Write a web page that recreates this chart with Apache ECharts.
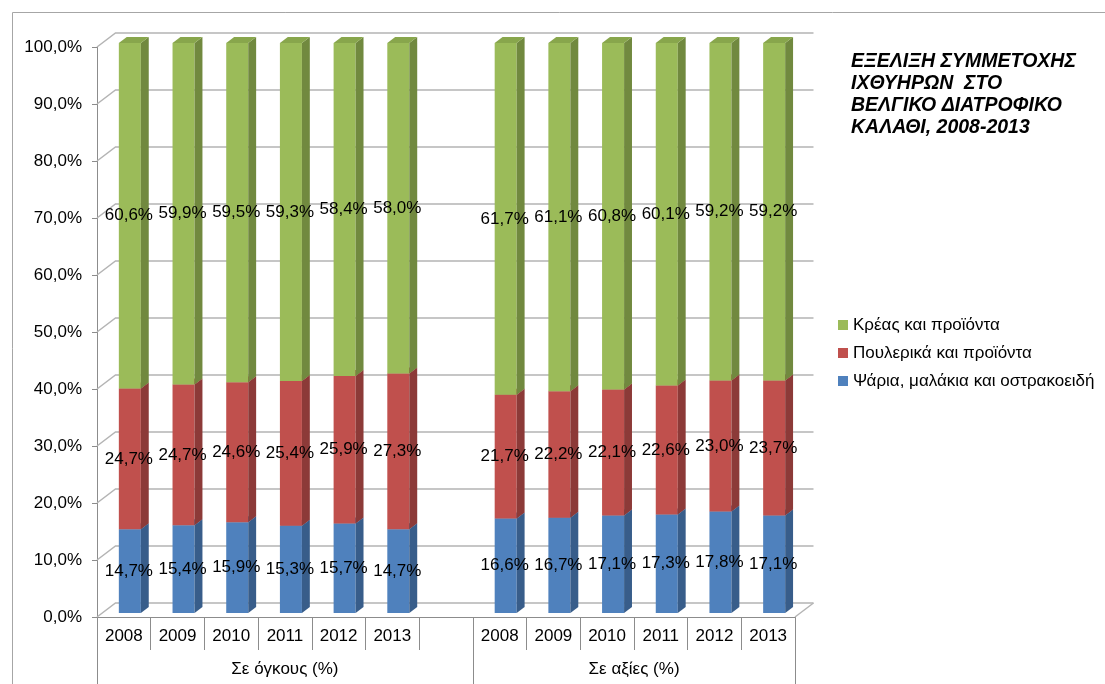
<!DOCTYPE html>
<html>
<head>
<meta charset="utf-8">
<script src="https://cdn.jsdelivr.net/npm/echarts@6/dist/echarts.min.js"></script>
<style>
html,body{margin:0;padding:0;background:#fff;}
#c{width:1105px;height:684px;}
</style>
</head>
<body>
<div id="c"></div>
<script>
// ---- data ----
var years = ['2008','2009','2010','2011','2012','2013','','2008','2009','2010','2011','2012','2013'];
var groupNames = ['Σε όγκους (%)', 'Σε αξίες (%)'];
var seriesNames = ['Ψάρια, μαλάκια και οστρακοειδή', 'Πουλερικά και προϊόντα', 'Κρέας και προϊόντα'];
var fish    = [14.7, 15.4, 15.9, 15.3, 15.7, 14.7, null, 16.6, 16.7, 17.1, 17.3, 17.8, 17.1];
var poultry = [24.7, 24.7, 24.6, 25.4, 25.9, 27.3, null, 21.7, 22.2, 22.1, 22.6, 23.0, 23.7];
var meat    = [60.6, 59.9, 59.5, 59.3, 58.4, 58.0, null, 61.7, 61.1, 60.8, 60.1, 59.2, 59.2];
var yTicks  = [0, 10, 20, 30, 40, 50, 60, 70, 80, 90, 100];
var titleText = 'ΕΞΕΛΙΞΗ ΣΥΜΜΕΤΟΧΗΣ\nΙΧΘΥΗΡΩΝ  ΣΤΟ\nΒΕΛΓΙΚΟ ΔΙΑΤΡΟΦΙΚΟ\nΚΑΛΑΘΙ, 2008-2013';

// ---- style ----
var FONT = "'Liberation Sans', Arial, sans-serif";
var FS = 17;
var colors = [
  {front:'#4f81bd', side:'#385d8a', top:'#4572a8'},
  {front:'#c0504d', side:'#8c3a38', top:'#a94643'},
  {front:'#9bbb59', side:'#71893f', top:'#88a64c'}
];
var WALL_DX = 18.5, WALL_DY = -14;
var F_DX = 5.3, F_DY = -4;      // front face offset
var S_DX = 7.9, S_DY = -6;      // bar depth
var GRID_COLOR = '#b4b4b4';
var AXIS_COLOR = '#8c8c8c';

function fmt(v){ return v.toFixed(1).replace('.', ',') + '%'; }

var stacks = [fish, poultry, meat];
var seriesList = [];

// back wall / floor grid lines
seriesList.push({
  type: 'custom',
  name: '_grid',
  silent: true,
  z: 1,
  data: yTicks.map(function(v){ return [0, v]; }),
  encode: {x: 0, y: 1},
  renderItem: function(params, api){
    var cs = params.coordSys;
    var y = api.coord([0, api.value(1)])[1];
    var x0 = cs.x, x1 = cs.x + cs.width;
    var children = [{
      type: 'polyline',
      shape: {points: [[x0, y], [x0 + WALL_DX, y + WALL_DY], [x1 + WALL_DX, y + WALL_DY]]},
      style: {stroke: GRID_COLOR, lineWidth: 1.5, fill: null}
    }];
    if (api.value(1) === 0) {
      children.push({
        type: 'line',
        shape: {x1: x1, y1: y, x2: x1 + WALL_DX, y2: y + WALL_DY},
        style: {stroke: GRID_COLOR, lineWidth: 1.5}
      });
    }
    return {type: 'group', children: children};
  }
});

// 3D stacked bars
stacks.forEach(function(arr, si){
  var data = [];
  arr.forEach(function(v, i){
    if (v == null) return;
    var base = 0;
    for (var k = 0; k < si; k++) base += stacks[k][i];
    data.push([i, base, v]);
  });
  var col = colors[si];
  seriesList.push({
    type: 'custom',
    name: seriesNames[si],
    z: 5 + si,
    itemStyle: {color: col.front},
    data: data,
    encode: {x: 0, y: [1, 2]},
    renderItem: function(params, api){
      var i = api.value(0), base = api.value(1), val = api.value(2);
      var p0 = api.coord([i, base]);
      var p1 = api.coord([i, base + val]);
      var band = api.size([1, 0])[0];
      var w = band * 0.41;
      var fx = p0[0] - w / 2 + 0.7 + F_DX;
      var yb = p0[1] + F_DY, yt = p1[1] + F_DY;
      return {
        type: 'group',
        children: [
          {type: 'rect', shape: {x: fx, y: yt, width: w, height: yb - yt},
           style: {fill: col.front}},
          {type: 'polygon', shape: {points: [[fx + w, yt], [fx + w + S_DX, yt + S_DY], [fx + w + S_DX, yb + S_DY], [fx + w, yb]]},
           style: {fill: col.side}},
          {type: 'polygon', shape: {points: [[fx, yt], [fx + S_DX, yt + S_DY], [fx + w + S_DX, yt + S_DY], [fx + w, yt]]},
           style: {fill: col.top}},
          {type: 'text', z2: 10,
           style: {text: fmt(val), x: fx + w / 2 - 1, y: (yt + yb) / 2, align: 'center', verticalAlign: 'middle',
                   fill: '#000', font: FS + 'px ' + FONT}}
        ]
      };
    }
  });
});

var chart = echarts.init(document.getElementById('c'), null, {renderer: 'canvas'});
chart.setOption({
  backgroundColor: '#ffffff',
  animation: false,
  textStyle: {fontFamily: FONT},
  title: {
    text: titleText,
    left: 846, top: 46,
    textStyle: {fontFamily: FONT, fontSize: 19.5, fontWeight: 700, fontStyle: 'italic', color: '#000', lineHeight: 22}
  },
  legend: {
    orient: 'vertical',
    left: 838, top: 316, padding: 0,
    itemWidth: 10, itemHeight: 10, itemGap: 10,
    textStyle: {fontFamily: FONT, fontSize: FS, color: '#000', lineHeight: 18},
    data: [
      {name: seriesNames[2], icon: 'rect', itemStyle: {color: colors[2].front}},
      {name: seriesNames[1], icon: 'rect', itemStyle: {color: colors[1].front}},
      {name: seriesNames[0], icon: 'rect', itemStyle: {color: colors[0].front}}
    ],
    selectedMode: false
  },
  graphic: [{
    type: 'rect', silent: true,
    shape: {x: 12.5, y: 12.5, width: 1300, height: 900},
    style: {fill: null, stroke: '#a6a6a6', lineWidth: 1}
  }],
  grid: {left: 97, right: 310, top: 47, bottom: 67},
  xAxis: [{
    type: 'category',
    data: years,
    boundaryGap: true,
    axisLine: {show: true, lineStyle: {color: AXIS_COLOR, width: 1}},
    axisTick: {show: true, interval: 0, length: 33, lineStyle: {color: AXIS_COLOR}},
    axisLabel: {interval: 0, margin: 11, fontSize: FS, color: '#000', fontFamily: FONT},
    splitLine: {show: false}
  }, {
    type: 'category',
    data: years,
    position: 'bottom',
    boundaryGap: true,
    axisLine: {show: false},
    axisTick: {show: true, length: 70, lineStyle: {color: AXIS_COLOR},
               interval: function(idx){ return idx === 0 || idx === 7; }},
    axisLabel: {
      interval: 0, margin: 44, fontSize: FS, color: '#000', fontFamily: FONT,
      formatter: function(v, idx){
        if (idx === 3) return groupNames[0];
        if (idx === 9) return '{r|' + groupNames[1] + '}';
        return '';
      },
      rich: {r: {fontSize: FS, color: '#000', fontFamily: FONT, padding: [0, 0, 0, 54]}}
    },
    splitLine: {show: false}
  }],
  yAxis: {
    type: 'value',
    min: 0, max: 100, interval: 10,
    axisLine: {show: true, lineStyle: {color: AXIS_COLOR}},
    axisTick: {show: true, length: 5, lineStyle: {color: AXIS_COLOR}},
    axisLabel: {formatter: fmt, fontSize: FS, color: '#000', margin: 15, fontFamily: FONT},
    splitLine: {show: false}
  },
  series: seriesList
});
</script>
</body>
</html>
